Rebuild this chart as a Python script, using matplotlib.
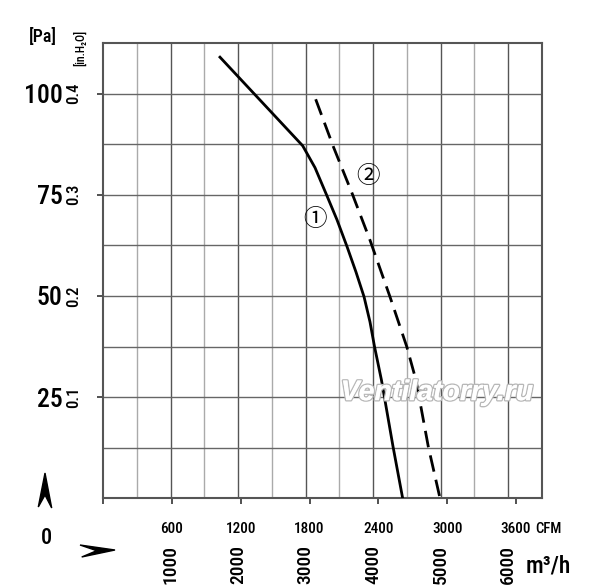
import numpy as np
import matplotlib
matplotlib.use("Agg")
import matplotlib.pyplot as plt
import matplotlib.patheffects as pe
from matplotlib import font_manager
from matplotlib.patches import Polygon
from matplotlib.transforms import Affine2D, blended_transform_factory

# fan curves: flow in m3/h, static pressure in Pa
curve1_flow = [1732, 2957, 3139, 3312, 3465, 3613, 3746, 3865, 3953, 4020, 4123, 4294, 4437]
curve1_pa = [109.0, 87.1, 81.7, 74.9, 68.8, 62.2, 55.9, 49.8, 43.6, 37.5, 29.2, 12.8, 0.0]
curve2_flow = [3149, 3410, 3687, 3953, 4249, 4497, 4634, 4816, 4990]
curve2_pa = [98.6, 86.9, 75.4, 63.8, 49.8, 37.5, 29.2, 12.8, 0.0]

pa_ticks = [25, 50, 75, 100]
inh2o_labels = ["0.1", "0.2", "0.3", "0.4"]
cfm_ticks = [600, 1200, 1800, 2400, 3000, 3600]
m3h_ticks = [1000, 2000, 3000, 4000, 5000, 6000]
M3H_PER_CFM = 1.699

# pick a condensed face if there is one
names = {f.name for f in font_manager.fontManager.ttflist}
narrow = "Liberation Sans"
for cand in ["Liberation Sans Narrow", "Arial Narrow", "Roboto Condensed", "PT Sans Narrow",
             "Archivo Narrow", "Open Sans Condensed"]:
    if cand in names:
        narrow = cand
        break
cjk = ["Noto Sans CJK JP", "DejaVu Sans"]
WT = 500

W, H = 600, 586
fig = plt.figure(figsize=(6, 5.86), dpi=100)
ax = fig.add_axes([103 / W, 1 - 498.3 / H, (542 - 103) / W, (498.3 - 43) / H])
ax.set_xlim(0, 6500)
ax.set_ylim(0, 112.5)

# grid: darker every 1000 m3/h
for x in range(500, 6500, 500):
    ax.axvline(x, color="#555555" if x % 1000 == 0 else "#aaaaaa", lw=1.0, zorder=1)
for y in np.arange(12.5, 112.5, 12.5):
    ax.axhline(y, color="#666666", lw=1.0, zorder=1)
for s in ax.spines.values():
    s.set_color("#555555")
    s.set_linewidth(1.5)

ax.plot(curve1_flow, curve1_pa, color="black", lw=2.0, zorder=3)
ax.plot(curve2_flow, curve2_pa, color="black", lw=2.0, dashes=(6, 3), zorder=3)
ax.text(3139, 68.8, "①", family=cjk, fontsize=17, ha="center", va="center", zorder=4)
ax.text(3919, 79.6, "②", family=cjk, fontsize=17, ha="center", va="center", zorder=4)

# watermark
ax.text(0.761, 0.231, "Ventilatorry.ru", transform=ax.transAxes, ha="center", va="center",
        family="Liberation Sans", fontweight="bold", style="italic", fontsize=20.5,
        color="white", zorder=5,
        path_effects=[pe.withStroke(linewidth=2.0, foreground="#b8b8b8"), pe.Normal()])

# y axis: Pa ticks + in.H2O labels
ax.set_yticks(pa_ticks)
ax.set_yticklabels([str(v) for v in pa_ticks], family=narrow, fontsize=18.5, fontweight=WT)
ax.tick_params(axis="y", direction="out", length=4, width=1.2, color="#333333", pad=25)
ytrans = blended_transform_factory(fig.transFigure, ax.transData)
for v, lab in zip(pa_ticks, inh2o_labels):
    ax.text(74 / W, v, lab, transform=ytrans, rotation=90, ha="center", va="center",
            family=narrow, fontsize=12, fontweight=WT)

# x axis: CFM ticks + m3/h labels
ax.set_xticks([0] + [c * M3H_PER_CFM for c in cfm_ticks])
ax.set_xticklabels([""] + [str(c) for c in cfm_ticks], family=narrow, fontsize=11, fontweight=WT)
ax.tick_params(axis="x", direction="out", length=4, width=1.2, color="#333333", pad=13)
xtrans = blended_transform_factory(ax.transData, fig.transFigure)
for v in m3h_ticks:
    ax.text(v, 1 - 565 / H, str(v), transform=xtrans, rotation=90, ha="center", va="center",
            family=narrow, fontsize=14, fontweight=WT)

fig.text(548 / W, 1 - 529 / H, "CFM", ha="center", va="center", family=narrow, fontsize=10.5,
         fontweight=WT)
fig.text(548 / W, 1 - 566 / H, "m³/h", ha="center", va="center", family=narrow, fontsize=17,
         fontweight=WT)
fig.text(43 / W, 1 - 37 / H, "[Pa]", ha="center", va="center", family=narrow, fontsize=13,
         fontweight=WT)
fig.text(80 / W, 1 - 48 / H, "[in.H₂O]", ha="center", va="center", rotation=90,
         family=[narrow, "DejaVu Sans"], fontsize=8.5, fontweight=WT)
fig.text(46.7 / W, 1 - 538 / H, "0", ha="center", va="center", family=narrow, fontsize=16,
         fontweight=WT)

# arrow heads drawn in pixel coords
px = Affine2D().scale(1 / W, -1 / H).translate(0, 1) + fig.transFigure
fig.add_artist(Polygon([(45, 473), (38.3, 507), (45, 495), (51.7, 508)], closed=True,
                       color="black", transform=px))
fig.add_artist(Polygon([(115, 550), (80, 545), (96.7, 550.7), (81.7, 557)], closed=True,
                       color="black", transform=px))

fig.savefig("out.png", dpi=100)
